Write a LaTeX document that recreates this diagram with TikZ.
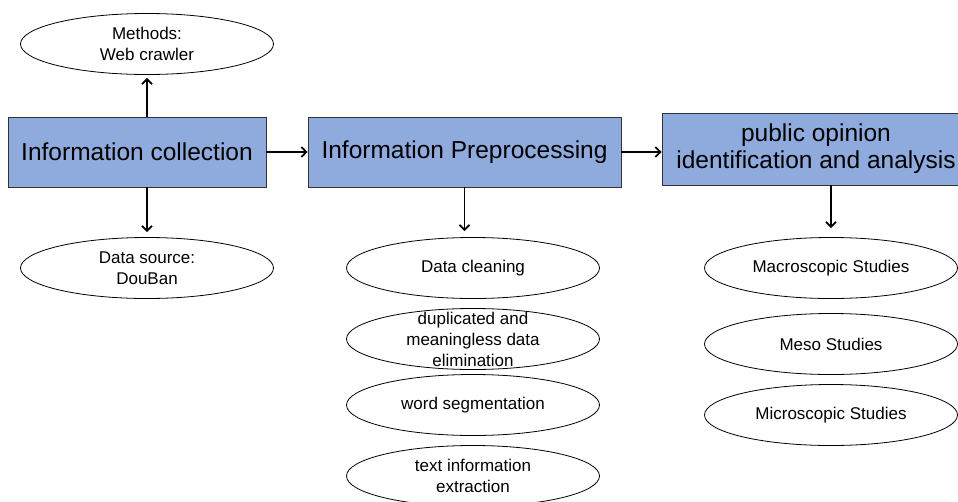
\documentclass[tikz,border=0pt]{standalone}
\usepackage{fontspec}
\setmainfont{Liberation Sans}
\usetikzlibrary{shapes.geometric,arrows.meta}
\definecolor{boxblue}{RGB}{143,170,220}

\begin{document}
\begin{tikzpicture}[x=1pt,y=-1pt,
	stage/.style={draw=black!80,fill=boxblue,line width=0.8pt,minimum height=70pt,inner sep=0pt,align=center,font=\fontsize{24.5}{27}\selectfont},
	item/.style={ellipse,draw,line width=0.8pt,minimum width=253pt,minimum height=61pt,inner sep=0pt,align=center,font=\fontsize{17}{21}\selectfont},
	arr/.style={-{Straight Barb[length=5pt,width=10pt]},line width=1.8pt}]
	\clip (0,0) rectangle (958,501);
	\def\ra{147}   %x of first column of ellipses
	\def\rb{473}   %x of second column
	\def\rc{831}   %x of third column
	
	%STAGES
	\node[stage,minimum width=258pt] (collect) at (137,152) {Information collection};
	\node[stage,minimum width=313pt] (prep) at (464.5,152) {Information Preprocessing};
	\node[stage,minimum width=308pt,minimum height=72pt] (analysis) at (816,149) {public opinion\\identification and analysis};
	
	%COLLECTION
	\node[item] (methods) at (\ra,44) {Methods:\\Web crawler};
	\node[item] (source) at (\ra,268) {Data source:\\DouBan};
	
	%PREPROCESSING
	\node[item] (clean) at (\rb,268) {Data cleaning};
	\node[item] (dup) at (\rb,339) {};
	\node[align=center,inner sep=0pt,font=\fontsize{17}{21}\selectfont] (duptext) at (dup.center) {duplicated and\\meaningless data\\elimination};
	\node[item] (seg) at (\rb,405) {word segmentation};
	\node[item] (extract) at (\rb,476) {text information\\extraction};
	
	%ANALYSIS
	\node[item] (macro) at (\rc,268) {Macroscopic Studies};
	\node[item] (meso) at (\rc,344) {Meso Studies};
	\node[item] (micro) at (\rc,415) {Microscopic Studies};
	
	%ARROWS
	\draw[arr] (collect.east) -- (prep.west);
	\draw[arr] (prep.east) -- (prep.east -| analysis.west);
	\draw[arr,shorten >=3pt] (methods.south |- collect.north) -- (methods.south);
	\draw[arr,shorten >=5pt] (source.north |- collect.south) -- (source.north);
	\draw[arr,shorten >=6pt] (prep.south) -- (prep.south |- clean.north);
	\draw[arr,shorten >=9pt] (macro.north |- analysis.south) -- (macro.north);
\end{tikzpicture}
\end{document}
